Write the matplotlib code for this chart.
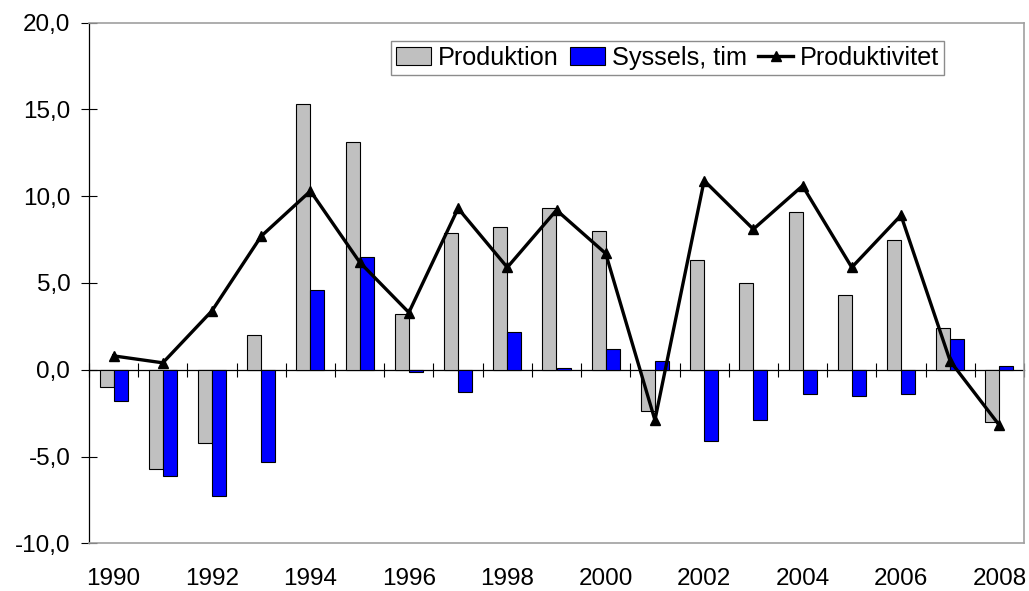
import numpy as np
import matplotlib.pyplot as plt
from matplotlib.ticker import FuncFormatter

plt.rcParams['font.family'] = ['Liberation Sans', 'DejaVu Sans']

years = list(range(1990, 2009))
produktion = [-1.0, -5.7, -4.2, 2.0, 15.3, 13.1, 3.2, 7.9, 8.2, 9.3, 8.0,
              -2.4, 6.3, 5.0, 9.1, 4.3, 7.5, 2.4, -3.0]
syssels_tim = [-1.8, -6.1, -7.3, -5.3, 4.6, 6.5, -0.1, -1.3, 2.2, 0.1, 1.2,
               0.5, -4.1, -2.9, -1.4, -1.5, -1.4, 1.8, 0.2]
produktivitet = [0.8, 0.4, 3.4, 7.7, 10.3, 6.2, 3.3, 9.3, 5.9, 9.2, 6.7,
                 -2.9, 10.9, 8.1, 10.6, 5.9, 8.9, 0.5, -3.2]

FS = 17.5
W, H = 1029, 591
fig = plt.figure(figsize=(W / 100, H / 100), dpi=100)
ax = fig.add_axes([89 / W, 1 - 543.3 / H, (1024 - 89) / W, (543.3 - 22.7) / H])

x = np.arange(len(years))
bw = 0.285
b1 = ax.bar(x - bw / 2, produktion, bw, color='#C0C0C0', edgecolor='black',
            linewidth=0.8, label='Produktion', zorder=2)
b2 = ax.bar(x + bw / 2, syssels_tim, bw, color='#0000FF', edgecolor='black',
            linewidth=0.8, label='Syssels, tim', zorder=2)
ln, = ax.plot(x, produktivitet, color='black', linewidth=2.4, marker='^',
              markersize=7, label='Produktivitet', zorder=4)

ax.set_xlim(-0.5, len(years) - 0.5)
ax.set_ylim(-10, 20)
ax.set_yticks(np.arange(-10, 21, 5))
ax.yaxis.set_major_formatter(FuncFormatter(lambda v, p: f'{v:.1f}'.replace('.', ',')))
ax.tick_params(axis='y', direction='inout', length=11, width=0.8,
               labelsize=FS, pad=8)

# year labels below the plot area
ax.set_xticks(x[::2])
ax.set_xticklabels([str(y) for y in years[::2]])
ax.tick_params(axis='x', length=0, labelsize=FS, pad=18)

for side in ['top', 'right', 'bottom']:
    ax.spines[side].set_color('#A0A0A0')
    ax.spines[side].set_linewidth(1.2)
ax.spines['left'].set_color('black')
ax.spines['left'].set_linewidth(0.9)

# category axis crossing at zero
zero_ax = ax.secondary_xaxis(10 / 30)
zero_ax.set_xticks(np.arange(-0.5, len(years), 1.0))
zero_ax.set_xticklabels([])
zero_ax.tick_params(direction='inout', length=10, width=0.8, color='black')
zero_ax.spines['bottom'].set_color('black')
zero_ax.spines['bottom'].set_linewidth(0.9)

leg = ax.legend([b1, b2, ln], ['Produktion', 'Syssels, tim', 'Produktivitet'],
                loc='upper left', bbox_to_anchor=(391 / W, 1 - 40.5 / H),
                bbox_transform=fig.transFigure, ncol=3, fontsize=18.2,
                frameon=True, fancybox=False, edgecolor='#707070',
                borderpad=0.2, handlelength=1.4, handletextpad=0.25,
                columnspacing=0.45, borderaxespad=0)
leg.get_frame().set_linewidth(1.0)

plt.savefig('out.png', dpi=100)
